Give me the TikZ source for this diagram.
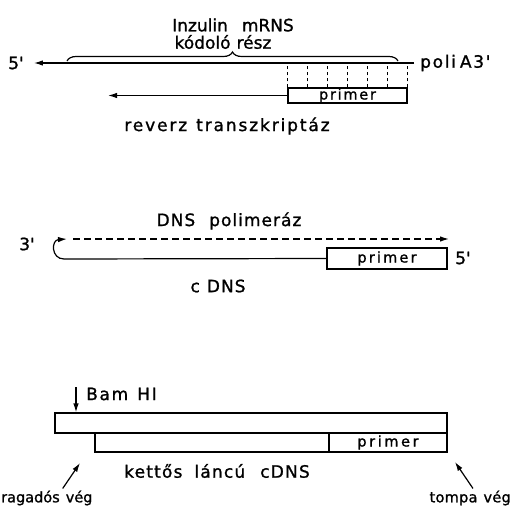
\documentclass[tikz,border=0pt]{standalone}
\usepackage{fontspec}
\newfontfamily\lbl[FakeBold=1.2]{DejaVu Sans}
\usetikzlibrary{arrows.meta,decorations.pathreplacing,calc}

\begin{document}
\begin{tikzpicture}[x=1pt,y=-1pt,
  strand/.style={line width=1.2pt},
  tip/.style={-{Latex[length=9pt,width=5.5pt]}},
  txt/.style={font=\lbl\fontsize{17}{20}\selectfont\addfontfeatures{LetterSpace=#1}, inner sep=0pt},
  txt/.default=0,
  smalltxt/.style={font=\lbl\fontsize{14.5}{16}\selectfont\addfontfeatures{LetterSpace=#1}, inner sep=0pt},
  smalltxt/.default=12,
  endtxt/.style={font=\lbl\fontsize{14.5}{16}\selectfont\addfontfeatures{LetterSpace=#1}, inner sep=0pt},
  endtxt/.default=0,
  strandbox/.style={draw, line width=1.2pt, inner sep=0pt, minimum height=#1},
  primerdash/.style={line width=1.2pt, dash pattern=on 3pt off 3pt},
  synth/.style={line width=1.2pt, dash pattern=on 7pt off 4pt},
]
\useasboundingbox (0,0) rectangle (512,506);

% --- mRNA with primer, reverse transcription ---
\node[txt] (ins1) at (233,25) {Inzulin\hspace{14pt}mRNS};
\node[txt] (ins2) at (223,42) {kódoló\hspace{6pt}rész};
\node[txt] (m5) at (16,63) {5'};
\node[txt=10,anchor=west] (polia) at (420,63) {poli\hspace{4pt}A3'};
\draw[strand,tip,shorten <=6pt,shorten >=10pt] (polia.west) -- (m5.east);
\draw[strand,decorate,decoration={brace,amplitude=9pt}] (67,61) -- (398,61);

\node[strandbox=15pt, minimum width=119pt, smalltxt=12] (p1) at (347.5,95.5) {primer};
\coordinate (mline) at (0,63);
\foreach \k in {0,...,6}{
  \coordinate (pin) at ($(p1.north west)!\k/6!(p1.north east)$);
  \draw[primerdash] (pin) -- (pin |- mline);
}
\coordinate (rtEnd) at (108,95.5);
\draw[strand,tip] (p1.west) -- (rtEnd);
\node[txt=11] (rt) at (227,126) {reverz\hspace{9pt}transzkriptáz};

% --- second strand synthesis ---
\node[txt=6] (pol) at (229,221) {DNS\hspace{14pt}polimeráz};
\node[strandbox=21pt, minimum width=120pt, smalltxt=15] (p2) at (387,258.5) {primer};
\node[txt] (c3) at (27,244) {3'};
\node[txt] (c5) at (463,258) {5'};
\coordinate (hookA) at (64,259);
\coordinate (hookB) at (67,239);
\draw[strand,tip] (p2.west) -- (hookA) .. controls (51,259) and (51,240) .. (hookB);
\coordinate (dStart) at (73,239);
\coordinate (dEnd) at (449,239);
\draw[synth,tip] (dStart) -- (dEnd);
\node[txt=6] (cdna) at (218,286) {c\hspace{7pt}DNS};

% --- double-stranded cDNA ---
\node[strandbox=20pt, minimum width=392pt] (upper) at (251,423) {};
\node[strandbox=19pt, minimum width=234pt] (lower) at (212,442.5) {};
\node[strandbox=19pt, minimum width=118pt, smalltxt=18] (p3) at (388,442.5) {primer};
\node[txt=10,anchor=west] (bam) at (86,394) {Bam\hspace{9pt}HI};
\coordinate (bamTop) at (76,387);
\draw[strand,tip] (bamTop) -- (bamTop |- upper.north);
\node[txt=7] (ds) at (217,471) {kettős\hspace{12pt}láncú\hspace{15pt}cDNS};
\node[endtxt=0,anchor=west] (rag) at (1,498) {ragadós\hspace{6pt}vég};
\node[endtxt=2,anchor=east] (tom) at (511,498) {tompa\hspace{6pt}vég};
\coordinate (ragTip) at (80,463);
\coordinate (tomTip) at (455,462);
\draw[strand,tip] ([xshift=-30pt,yshift=2pt]rag.north east) -- (ragTip);
\draw[strand,tip] ([xshift=-38pt,yshift=2pt]tom.north east) -- (tomTip);
\end{tikzpicture}
\end{document}
